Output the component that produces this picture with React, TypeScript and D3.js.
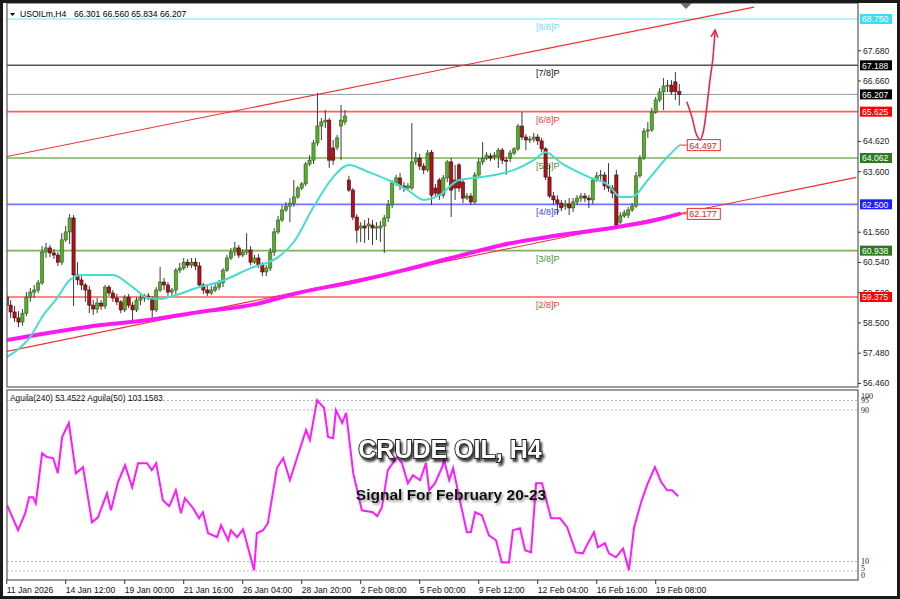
import React from "react";
import * as d3 from "d3";

// ---------- DATA ----------
const symbolName = "USOILm,H4";
const headerOHLC = [66.301, 66.56, 65.834, 66.207];

// [open, high, low, close]
const candles: number[][] = [
  [59.37, 59.54, 58.94, 59.10], [59.10, 59.27, 58.67, 58.87], [58.87, 59.07, 58.53, 58.67], [58.67, 58.90, 58.36, 58.53],
  [58.53, 58.97, 58.40, 58.83], [58.83, 59.54, 58.73, 59.37], [59.37, 59.68, 59.21, 59.54], [59.54, 59.78, 59.34, 59.61],
  [59.61, 59.95, 59.51, 59.85], [59.85, 61.09, 59.78, 60.89], [60.89, 61.20, 60.69, 61.03], [61.03, 61.13, 60.72, 60.86],
  [60.86, 60.99, 60.66, 60.79], [60.79, 60.89, 60.42, 60.55], [60.55, 61.53, 60.45, 61.30], [61.30, 61.77, 61.23, 61.57],
  [61.57, 62.17, 61.16, 62.04], [62.04, 62.14, 59.07, 60.12], [60.12, 60.55, 59.78, 59.95], [59.95, 60.08, 59.61, 59.78],
  [59.78, 59.85, 59.21, 59.61], [59.61, 59.75, 58.83, 59.10], [59.10, 59.27, 58.77, 58.97], [58.97, 59.34, 58.83, 59.17],
  [59.17, 59.27, 58.94, 59.07], [59.07, 59.78, 58.97, 59.71], [59.71, 59.78, 59.41, 59.51], [59.51, 59.61, 59.21, 59.34],
  [59.34, 59.48, 59.10, 59.21], [59.21, 59.27, 58.83, 58.94], [58.94, 59.44, 58.87, 59.37], [59.37, 59.48, 59.00, 59.10],
  [59.10, 59.21, 58.50, 58.94], [58.94, 59.37, 58.87, 59.27], [59.27, 59.44, 59.10, 59.34], [59.34, 59.48, 59.21, 59.41],
  [59.41, 59.51, 59.27, 59.34], [59.34, 59.41, 58.67, 58.94], [58.94, 59.71, 58.87, 59.61], [59.61, 60.39, 59.54, 59.88],
  [59.88, 60.02, 59.61, 59.78], [59.78, 59.88, 59.41, 59.54], [59.54, 59.68, 59.41, 59.61], [59.61, 60.35, 59.48, 60.28],
  [60.28, 60.52, 60.18, 60.35], [60.35, 60.69, 60.28, 60.55], [60.55, 60.66, 60.35, 60.45], [60.45, 60.69, 60.35, 60.55],
  [60.55, 60.69, 60.28, 60.42], [60.42, 60.55, 59.68, 59.78], [59.78, 59.85, 59.48, 59.61], [59.61, 59.75, 59.41, 59.51],
  [59.51, 59.75, 59.44, 59.61], [59.61, 59.81, 59.54, 59.71], [59.71, 59.95, 59.61, 59.85], [59.85, 60.35, 59.71, 60.28],
  [60.28, 60.79, 60.22, 60.69], [60.69, 61.03, 60.62, 60.89], [60.89, 61.23, 60.76, 61.03], [61.03, 61.13, 60.69, 60.79],
  [60.79, 60.99, 60.72, 60.89], [60.89, 61.53, 60.79, 60.96], [60.96, 61.09, 60.45, 60.55], [60.55, 60.79, 60.49, 60.69],
  [60.69, 60.82, 60.35, 60.45], [60.45, 60.55, 60.08, 60.22], [60.22, 60.45, 60.08, 60.35], [60.35, 61.03, 60.25, 60.89],
  [60.89, 61.70, 60.76, 61.57], [61.57, 62.11, 61.50, 61.97], [61.97, 62.48, 61.90, 62.31], [62.31, 62.58, 62.24, 62.44],
  [62.44, 62.71, 61.90, 62.54], [62.54, 63.32, 62.41, 62.75], [62.75, 63.12, 62.68, 63.05], [63.05, 63.25, 62.98, 63.19],
  [63.19, 63.93, 63.12, 63.86], [63.86, 64.16, 63.79, 63.99], [63.99, 64.67, 63.86, 64.57], [64.57, 66.25, 64.47, 65.14],
  [65.14, 65.41, 64.67, 65.28], [65.28, 65.68, 65.07, 65.34], [65.34, 65.41, 63.73, 63.99], [64.40, 64.67, 63.83, 63.99],
  [64.43, 64.84, 64.33, 64.74], [65.14, 65.85, 63.99, 65.34], [65.28, 65.68, 65.18, 65.48], [63.32, 63.46, 62.92, 62.98],
  [62.98, 63.05, 61.97, 62.07], [62.07, 62.17, 61.20, 61.63], [61.70, 61.90, 61.23, 61.77], [61.77, 61.97, 61.20, 61.70],
  [61.77, 62.04, 61.30, 61.84], [61.80, 61.97, 61.13, 61.70], [61.70, 61.90, 61.30, 61.74], [61.70, 61.94, 61.23, 61.77],
  [61.77, 62.14, 60.86, 62.04], [62.04, 62.65, 61.90, 62.48], [62.48, 63.32, 62.38, 63.22], [63.22, 63.49, 63.12, 63.39],
  [63.39, 63.56, 62.98, 63.12], [63.12, 63.25, 62.92, 63.05], [63.05, 63.22, 62.95, 63.12], [63.05, 65.24, 62.98, 63.93],
  [63.93, 64.26, 63.83, 64.06], [64.06, 64.20, 63.66, 63.79], [63.79, 63.89, 63.52, 63.66], [63.66, 64.33, 63.59, 64.23],
  [64.26, 64.33, 62.48, 62.81], [63.05, 63.19, 62.75, 62.88], [63.32, 63.39, 62.65, 62.81], [62.81, 63.49, 62.71, 63.39],
  [63.39, 63.99, 63.25, 63.93], [63.93, 64.06, 62.07, 62.98], [63.32, 63.83, 62.65, 63.05], [63.83, 63.89, 62.92, 63.05],
  [63.25, 63.32, 62.54, 62.71], [62.71, 62.88, 62.65, 62.78], [62.78, 62.88, 62.48, 62.58], [62.58, 63.59, 62.51, 63.49],
  [63.49, 64.06, 63.42, 63.93], [63.93, 64.60, 63.83, 64.06], [64.06, 64.26, 63.99, 64.16], [64.13, 64.23, 63.96, 64.06],
  [64.10, 64.26, 63.99, 64.16], [64.10, 64.40, 63.73, 64.33], [64.33, 64.40, 63.86, 63.99], [63.99, 64.10, 63.49, 63.97],
  [64.06, 64.33, 63.93, 64.23], [64.23, 64.43, 64.16, 64.37], [64.37, 65.21, 64.30, 65.14], [65.14, 65.61, 64.67, 64.77],
  [64.77, 64.87, 64.33, 64.67], [64.67, 64.80, 64.57, 64.70], [64.70, 64.91, 64.60, 64.77], [64.77, 64.87, 64.50, 64.64],
  [64.64, 64.74, 64.26, 64.37], [64.37, 64.43, 63.32, 63.42], [63.42, 63.83, 62.71, 62.78], [62.78, 62.92, 62.48, 62.65],
  [62.65, 62.81, 62.14, 62.54], [62.54, 62.65, 62.27, 62.38], [62.44, 62.65, 62.31, 62.51], [62.51, 62.71, 62.14, 62.38],
  [62.38, 62.71, 62.24, 62.58], [62.58, 62.81, 62.48, 62.71], [62.71, 62.88, 62.58, 62.78], [62.78, 62.88, 62.58, 62.71],
  [62.71, 62.81, 62.38, 62.65], [62.65, 63.39, 62.51, 63.32], [63.32, 63.59, 63.25, 63.46], [63.46, 63.66, 63.32, 63.49],
  [63.49, 63.59, 62.98, 63.12], [63.12, 63.89, 62.92, 63.05], [63.05, 63.15, 62.71, 62.88], [63.49, 63.66, 61.70, 61.80],
  [61.90, 62.24, 61.84, 62.11], [62.11, 62.31, 62.04, 62.21], [62.14, 62.41, 62.04, 62.31], [62.31, 62.54, 62.24, 62.44],
  [62.44, 63.59, 62.38, 63.46], [63.46, 64.16, 63.39, 64.06], [64.06, 65.07, 63.99, 64.97], [64.97, 65.28, 64.74, 65.01],
  [65.01, 65.75, 64.94, 65.61], [65.61, 66.12, 65.55, 66.02], [66.02, 66.42, 65.95, 66.29], [66.29, 66.76, 65.68, 66.49],
  [66.49, 66.69, 66.29, 66.52], [66.52, 66.69, 66.19, 66.29], [66.63, 66.96, 66.02, 66.30], [66.301, 66.56, 65.834, 66.207],
];

// moving averages: bar index / value pairs
const maFastIdx = [0, 3, 6, 9, 13, 16, 19, 27, 32, 36, 39, 43, 49, 54, 62, 69, 73, 78, 83, 87, 92, 97, 102, 106, 110, 115, 119, 124, 129, 134, 137, 141, 148, 153, 156, 159, 163, 168, 171];
const maFastVal = [57.35, 57.62, 58.03, 58.7, 59.37, 59.95, 60.12, 60.12, 59.71, 59.34, 59.31, 59.44, 59.71, 59.88, 60.35, 60.72, 61.23, 62.41, 63.42, 63.83, 63.59, 63.32, 62.98, 62.65, 62.81, 63.32, 63.39, 63.49, 63.66, 63.99, 64.26, 63.89, 63.42, 63.15, 62.75, 62.75, 63.32, 64.1, 64.497];
const maSlowIdx = [0, 24, 36, 49, 62, 75, 88, 101, 113, 126, 139, 152, 165, 171];
const maSlowVal = [57.92, 58.43, 58.6, 58.87, 59.1, 59.54, 59.88, 60.28, 60.69, 61.13, 61.43, 61.67, 61.97, 62.177];

// Murrey levels
const levelPrices = [68.75, 67.188, 65.625, 64.062, 62.5, 60.938, 59.375];
const levelNames = ["[8/8]P", "[7/8]P", "[6/8]P", "[5/8]P", "[4/8]P", "[3/8]P", "[2/8]P"];
const currentPrice = 66.207;
const priceTicks = [67.68, 66.66, 64.62, 63.6, 61.56, 60.54, 59.52, 58.5, 57.48, 56.46];

// channel lines [barIndex, price]
const upperChannel = [[0, 64.11], [190, 69.15]];
const lowerChannel = [[0, 57.54], [216, 63.41]];

// projected path [barIndex, price]
const arrowPath = [[172.9, 65.96], [174.2, 65.45], [175.4, 64.84], [176.3, 64.67], [177.1, 64.95], [178.0, 65.79], [178.8, 66.69], [179.5, 67.37], [180.1, 68.38]];

const timeLabels = ["11 Jan 2026", "14 Jan 12:00", "19 Jan 00:00", "21 Jan 16:00", "26 Jan 04:00", "28 Jan 20:00", "2 Feb 08:00", "5 Feb 00:00", "9 Feb 12:00", "12 Feb 04:00", "16 Feb 16:00", "19 Feb 08:00"];
const timeLabelBars = [0, 15, 30, 45, 60, 75, 90, 105, 120, 135, 150, 165];

// oscillator (Aguila)
const oscIdx = [0.1, 2.9, 4.7, 5.7, 6.7, 7.4, 9.0, 10.2, 11.8, 13.0, 14.1, 15.8, 17.6, 19.4, 21.7, 23.2, 25.5, 26.5, 28.3, 30.1, 31.9, 33.4, 35.7, 36.9, 38.0, 39.7, 41.3, 42.0, 43.0, 44.3, 45.3, 47.4, 48.9, 49.9, 51.2, 53.5, 54.5, 56.3, 57.0, 58.6, 60.1, 62.9, 63.6, 65.2, 66.4, 68.7, 70.3, 72.0, 73.8, 76.1, 77.1, 78.9, 80.7, 81.7, 83.0, 83.7, 85.3, 86.3, 88.1, 90.3, 93.1, 94.2, 95.4, 96.9, 99.2, 100.5, 102.0, 103.3, 105.1, 106.6, 107.4, 108.9, 110.7, 111.2, 112.5, 113.5, 115.2, 117.0, 118.0, 119.1, 120.8, 122.6, 124.4, 125.9, 127.7, 128.7, 130.5, 131.8, 133.3, 134.6, 136.1, 137.4, 138.4, 140.7, 142.5, 144.7, 146.5, 147.5, 149.3, 150.3, 152.1, 153.1, 154.9, 156.7, 158.2, 159.5, 161.3, 162.8, 164.8, 166.4, 167.9, 169.2, 170.7];
const oscVal = [39.7, 26.5, 35.4, 43.9, 43.9, 40.7, 67.2, 65.1, 64.6, 56.6, 75.7, 83.1, 56.6, 59.8, 30.7, 33.3, 46.0, 37.0, 51.9, 60.8, 49.2, 61.9, 61.9, 58.2, 61.9, 42.3, 39.2, 42.3, 47.6, 35.4, 43.4, 38.1, 32.8, 36.0, 24.9, 22.8, 29.1, 21.2, 26.5, 22.8, 27.0, 5.3, 24.9, 26.5, 30.2, 59.3, 64.6, 52.9, 64.6, 79.4, 74.1, 95.2, 91.0, 75.7, 75.1, 89.9, 83.1, 88.4, 56.6, 37.0, 36.0, 33.9, 38.6, 58.2, 65.1, 61.9, 51.3, 55.6, 52.9, 61.9, 47.6, 51.3, 59.8, 63.5, 52.9, 59.3, 42.3, 25.4, 25.4, 36.0, 34.4, 23.8, 21.2, 9.5, 9.5, 26.5, 27.5, 15.9, 14.8, 51.3, 51.3, 40.7, 32.8, 32.8, 28.0, 14.8, 14.3, 18.5, 25.4, 17.5, 19.6, 14.3, 12.2, 16.9, 5.3, 28.0, 41.3, 50.3, 59.8, 51.9, 47.6, 47.6, 44.4];
const oscLevels = [95, 90, 10, 5];
const oscAxisValues = [100, 95, 90, 10, 5, 0];
const oscLegend = "Aguila(240) 53.4522  Aguila(50) 103.1583";

const titleText = "CRUDE OIL, H4";
const subtitleText = "Signal For February 20-23";

// ---------- STYLE ----------
const FONT = "'Liberation Sans', Arial, sans-serif";
const levelLineColors = ["#70e4fb", "#555555", "#ff5f5f", "#78b45a", "#7474ff", "#78b45a", "#ff5f5f"];
const levelLineWidths = [1.2, 1.6, 1.6, 1.6, 1.6, 1.6, 1.4];
const levelTextColors = ["#6fdcf6", "#111111", "#f23a3a", "#4f8f34", "#4040ff", "#4f8f34", "#f23a3a"];
const levelBoxColors = ["#38def8", "#000000", "#ff0000", "#2a7d1e", "#1c1cff", "#2a7d1e", "#ff0000"];

const PL = 7, PR = 858, MT = 3, MB = 387, OT = 390, OB = 580;

export default function App() {
  const x = d3.scaleLinear().domain([0, 171]).range([6.7, 679.3]);
  const y = d3.scaleLinear().domain([59.375, 68.75]).range([297, 19]);
  const yo = d3.scaleLinear().domain([0, 100]).range([580.4, 391]);
  const fmt = d3.format(".3f");

  const line = d3.line<number[]>().x((d) => x(d[0])).y((d) => y(d[1]));
  const fastPath = d3.line<number>().x((d, i) => x(maFastIdx[i])).y((d) => y(d)).curve(d3.curveMonotoneX)(maFastVal) || "";
  const slowPath = d3.line<number>().x((d, i) => x(maSlowIdx[i])).y((d) => y(d)).curve(d3.curveMonotoneX)(maSlowVal) || "";
  const oscPath = d3.line<number>().x((d, i) => x(oscIdx[i])).y((d) => yo(d))(oscVal) || "";
  const arrowD = d3.line<number[]>().x((d) => x(d[0])).y((d) => y(d[1])).curve(d3.curveCatmullRom)(arrowPath) || "";
  const tip = arrowPath[arrowPath.length - 1];
  const prev = arrowPath[arrowPath.length - 2];
  const tx = x(tip[0]), ty = y(tip[1]);
  const ang = Math.atan2(ty - y(prev[1]), tx - x(prev[0]));
  const ah = 8;
  const a1 = [tx - ah * Math.cos(ang - 0.45), ty - ah * Math.sin(ang - 0.45)];
  const a2 = [tx - ah * Math.cos(ang + 0.45), ty - ah * Math.sin(ang + 0.45)];

  const lastI = candles.length - 1;
  const fastEnd = maFastVal[maFastVal.length - 1];
  const slowEnd = maSlowVal[maSlowVal.length - 1];

  return (
    <div>
      <style>{"body{margin:0;background:#fff}"}</style>
      <svg width={900} height={599} style={{ display: "block" }} fontFamily={FONT}>
        <defs>
          <clipPath id="mainClip"><rect x={PL} y={MT} width={PR - PL} height={MB - MT} /></clipPath>
          <clipPath id="oscClip"><rect x={PL} y={OT} width={PR - PL} height={OB - OT} /></clipPath>
          <filter id="shadowDark" x="-10%" y="-30%" width="130%" height="180%">
            <feDropShadow dx="2" dy="3" stdDeviation="1.3" floodColor="#000" floodOpacity="0.75" />
          </filter>
          <filter id="shadowGray" x="-10%" y="-30%" width="130%" height="180%">
            <feDropShadow dx="1.5" dy="2" stdDeviation="1.2" floodColor="#555" floodOpacity="0.6" />
          </filter>
        </defs>
        <rect x={0} y={0} width={900} height={599} fill="#fff" />

        {/* main panel */}
        <g clipPath="url(#mainClip)">
          {levelPrices.map((p, i) => (
            <line key={"lv" + i} x1={PL} x2={PR} y1={y(p)} y2={y(p)} stroke={levelLineColors[i]} strokeWidth={levelLineWidths[i]} />
          ))}
          <line x1={PL} x2={PR} y1={y(currentPrice)} y2={y(currentPrice)} stroke="#8c9bb2" strokeWidth={1} />
          <path d={line(upperChannel) || ""} stroke="#f03030" strokeWidth={1.1} fill="none" />
          <path d={line(lowerChannel) || ""} stroke="#f03030" strokeWidth={1.1} fill="none" />
          {levelNames.map((n, i) => (
            <text key={"ln" + i} x={536} y={y(levelPrices[i]) + 11} fontSize={9} fill={levelTextColors[i]}>{n}</text>
          ))}
          {candles.map((c, i) => {
            const [o, h, l, cl] = c;
            const up = cl >= o;
            const top = y(Math.max(o, cl));
            const hgt = Math.max(1, Math.abs(y(o) - y(cl)));
            return (
              <g key={"c" + i}>
                <line x1={x(i)} x2={x(i)} y1={y(h)} y2={y(l)} stroke="#3a3a3a" strokeWidth={1} />
                <rect x={x(i) - 1.6} y={top} width={3.2} height={hgt} fill={up ? "#55ad2b" : "#b3121b"} stroke={up ? "#2f5f1a" : "#3a0808"} strokeWidth={0.6} />
              </g>
            );
          })}
          <path d={slowPath} stroke="#ff18f0" strokeWidth={4} fill="none" strokeLinecap="round" />
          <path d={fastPath} stroke="#45ddd0" strokeWidth={2} fill="none" />
          {/* end-of-MA annotations */}
          <line x1={x(lastI)} x2={x(lastI) + 8} y1={y(fastEnd)} y2={y(fastEnd)} stroke="#f03030" strokeWidth={1} />
          <rect x={x(lastI) + 8} y={y(fastEnd) - 5.5} width={33} height={11} fill="#fff" stroke="#f03030" strokeWidth={1} />
          <text x={x(lastI) + 10} y={y(fastEnd) + 3.5} fontSize={9} fill="#e02020">{fmt(fastEnd)}</text>
          <line x1={x(lastI)} x2={x(lastI) + 8} y1={y(slowEnd)} y2={y(slowEnd)} stroke="#f03030" strokeWidth={1} />
          <rect x={x(lastI) + 8} y={y(slowEnd) - 5.5} width={33} height={11} fill="#fff" stroke="#f03030" strokeWidth={1} />
          <text x={x(lastI) + 10} y={y(slowEnd) + 3.5} fontSize={9} fill="#e02020">{fmt(slowEnd)}</text>
          {/* projection arrow */}
          <path d={arrowD} stroke="#e8274a" strokeWidth={1.6} fill="none" />
          <path d={`M${a1[0]},${a1[1]} L${tx},${ty} L${a2[0]},${a2[1]}`} stroke="#e8274a" strokeWidth={1.6} fill="none" />
        </g>
        {/* chart shift marker */}
        <path d={`M${x(172.7) - 6},${MT} L${x(172.7) + 6},${MT} L${x(172.7)},${MT + 6} Z`} fill="#6e6e6e" />
        <rect x={PL} y={MT} width={PR - PL} height={MB - MT} fill="none" stroke="#5a5a5a" strokeWidth={1.2} />

        {/* header */}
        <path d="M10,13 L15,13 L12.5,16 Z" fill="#000" />
        <text x={20} y={17} fontSize={8.6} fill="#000">{symbolName}</text>
        <text x={74} y={17} fontSize={8.6} fill="#000">{headerOHLC.map((v) => fmt(v)).join(" ")}</text>

        {/* right price axis */}
        {priceTicks.map((p, i) => (
          <g key={"pt" + i}>
            <line x1={PR} x2={PR + 3} y1={y(p)} y2={y(p)} stroke="#333" />
            <text x={PR + 5} y={y(p) + 3} fontSize={8.6} fill="#222">{fmt(p)}</text>
          </g>
        ))}
        {levelPrices.map((p, i) => (
          <g key={"lb" + i}>
            <rect x={PR + 2} y={y(p) - 5} width={32} height={10} fill={levelBoxColors[i]} />
            <text x={PR + 4} y={y(p) + 3.2} fontSize={8.6} fill="#fff">{fmt(p)}</text>
          </g>
        ))}
        <rect x={PR + 2} y={y(currentPrice) - 5} width={32} height={10} fill="#000" />
        <text x={PR + 4} y={y(currentPrice) + 3.2} fontSize={8.6} fill="#fff">{fmt(currentPrice)}</text>

        {/* oscillator panel */}
        <g clipPath="url(#oscClip)">
          {oscLevels.map((v, i) => (
            <line key={"ol" + i} x1={PL} x2={PR} y1={yo(v)} y2={yo(v)} stroke="#b4b4b4" strokeWidth={1} strokeDasharray="2,2" />
          ))}
          <path d={oscPath} stroke="#ff1aff" strokeWidth={2} fill="none" />
        </g>
        <rect x={PL} y={OT} width={PR - PL} height={OB - OT} fill="none" stroke="#5a5a5a" strokeWidth={1.2} />
        <text x={10} y={401} fontSize={8.4} fill="#111">{oscLegend}</text>
        {oscAxisValues.map((v, i) => {
          const off = v === 100 ? 8 : v === 0 ? -2 : v === 5 ? 0 : 3;
          return (
            <text key={"oa" + i} x={PR + 3} y={yo(v) + off} fontSize={8} fontFamily="'Liberation Serif', 'Times New Roman', serif" fill="#222">{v}</text>
          );
        })}

        {/* titles */}
        <text x={450} y={458} textAnchor="middle" fontSize={25} fontWeight="bold" fill="#ffffff" stroke="#1a1a1a" strokeWidth={1.8} paintOrder="stroke" filter="url(#shadowDark)">{titleText}</text>
        <text x={451} y={500} textAnchor="middle" fontSize={15.5} fontWeight="bold" fill="#111" filter="url(#shadowGray)">{subtitleText}</text>

        {/* time axis */}
        {timeLabels.map((t, i) => (
          <g key={"tl" + i}>
            <line x1={x(timeLabelBars[i])} x2={x(timeLabelBars[i])} y1={OB} y2={OB + 4} stroke="#333" />
            <text x={x(timeLabelBars[i])} y={593} fontSize={8.6} fill="#111">{t}</text>
          </g>
        ))}

        {/* outer frame */}
        <rect x={1.5} y={1.5} width={897} height={596} fill="none" stroke="#1a1a1a" strokeWidth={3} />
      </svg>
    </div>
  );
}
